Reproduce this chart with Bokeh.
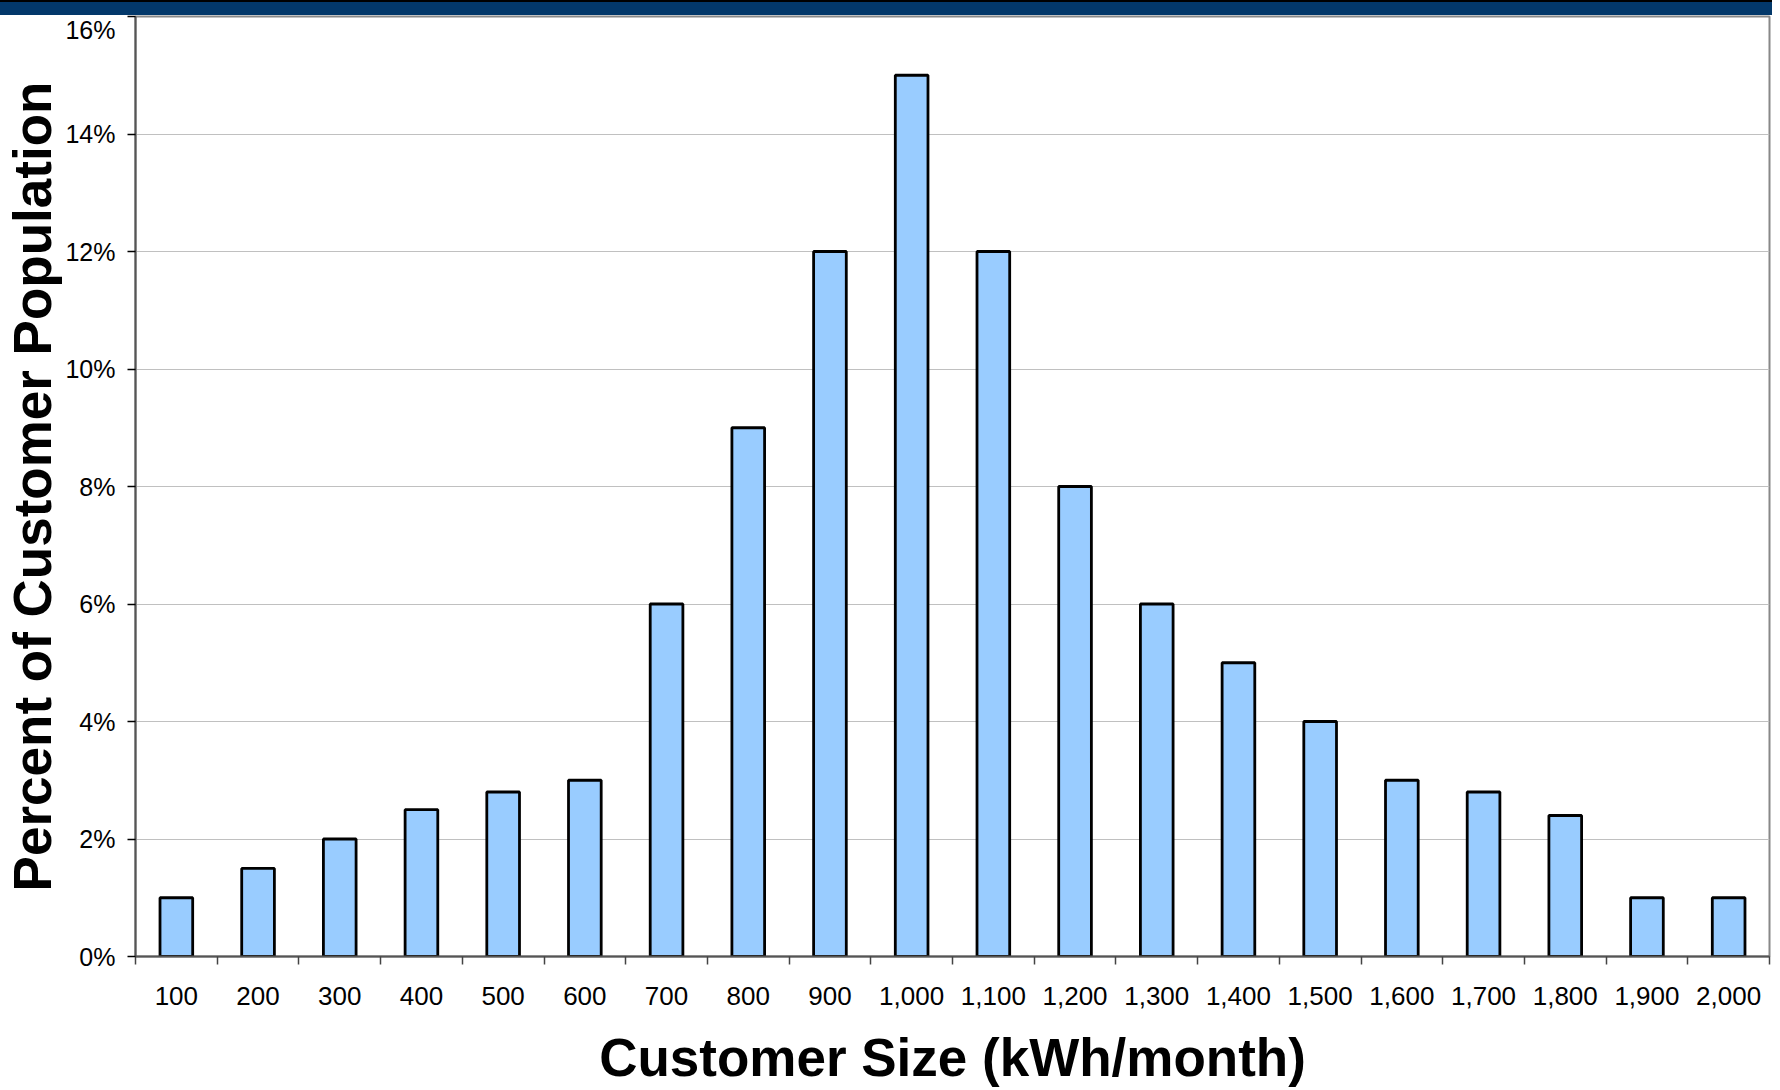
from bokeh.plotting import figure
from bokeh.models import Range1d, FixedTicker, Div
from bokeh.layouts import column
from bokeh.embed import file_html
from bokeh.resources import INLINE

categories = ["100", "200", "300", "400", "500", "600", "700", "800", "900", "1,000",
              "1,100", "1,200", "1,300", "1,400", "1,500", "1,600", "1,700", "1,800", "1,900", "2,000"]
percent = [1.0, 1.5, 2.0, 2.5, 2.8, 3.0, 6.0, 9.0, 12.0, 15.0,
           12.0, 8.0, 6.0, 5.0, 4.0, 3.0, 2.8, 2.4, 1.0, 1.0]
y_ticks = [0, 2, 4, 6, 8, 10, 12, 14, 16]
y_tick_labels = ["0%", "2%", "4%", "6%", "8%", "10%", "12%", "14%", "16%"]

xs = list(range(1, len(categories) + 1))

p = figure(width=1772, height=1075, output_backend="svg", toolbar_location=None,
           x_range=Range1d(0.5, len(categories) + 0.5), y_range=Range1d(0, 16),
           min_border_left=135, min_border_top=1, min_border_right=3, min_border_bottom=134)

p.vbar(x=xs, top=percent, width=0.4, fill_color="#99CCFF", line_color="black", line_width=2.8)

FONT = "Liberation Sans"
# x axis
p.xaxis.ticker = FixedTicker(ticks=xs, minor_ticks=[i + 0.5 for i in range(0, len(categories) + 1)])
p.xaxis.major_label_overrides = {i: c for i, c in zip(xs, categories)}
p.xaxis.major_tick_out = 0
p.xaxis.major_tick_in = 0
p.xaxis.minor_tick_out = 8
p.xaxis.minor_tick_in = 0
p.xaxis.minor_tick_line_color = "#444444"
p.xaxis.minor_tick_line_width = 1.5
p.xaxis.axis_line_color = "#555555"
p.xaxis.axis_line_width = 2
p.xaxis.major_label_text_font = FONT
p.xaxis.major_label_text_font_size = "26px"
p.xaxis.major_label_text_color = "black"
p.xaxis.major_label_standoff = 22
p.xaxis.axis_label = "Customer Size (kWh/month)"
p.xaxis.axis_label_text_font = FONT
p.xaxis.axis_label_text_font_style = "bold"
p.xaxis.axis_label_text_font_size = "53px"
p.xaxis.axis_label_text_color = "black"
p.xaxis.axis_label_standoff = 20

# y axis
p.yaxis.ticker = FixedTicker(ticks=y_ticks, minor_ticks=[])
p.yaxis.major_label_overrides = {t: l for t, l in zip(y_ticks, y_tick_labels)}
p.yaxis.major_tick_out = 8
p.yaxis.major_tick_in = 0
p.yaxis.major_tick_line_color = "black"
p.yaxis.major_tick_line_width = 1.5
p.yaxis.axis_line_color = "#555555"
p.yaxis.axis_line_width = 2
p.yaxis.major_label_text_font = FONT
p.yaxis.major_label_text_font_size = "25px"
p.yaxis.major_label_text_color = "black"
p.yaxis.major_label_standoff = 12
p.yaxis.axis_label = "Percent of Customer Population"
p.yaxis.axis_label_text_font = FONT
p.yaxis.axis_label_text_font_style = "bold"
p.yaxis.axis_label_text_font_size = "53px"
p.yaxis.axis_label_text_color = "black"
p.yaxis.axis_label_standoff = 0

p.xgrid.grid_line_color = None
p.ygrid.ticker = FixedTicker(ticks=y_ticks)
p.ygrid.grid_line_color = "#C0C0C0"
p.ygrid.grid_line_width = 1.2

p.outline_line_color = "#888888"
p.outline_line_width = 2
p.background_fill_color = "white"
p.border_fill_color = "white"

# dark header band above the chart
band = Div(text="", width=1772, height=15, margin=0,
           styles={"background-color": "#03386A", "border-top": "2px solid #000000",
                   "box-sizing": "border-box"})

layout = column(band, p, spacing=0, margin=0)

open("out.html", "w").write(file_html(layout, INLINE))
